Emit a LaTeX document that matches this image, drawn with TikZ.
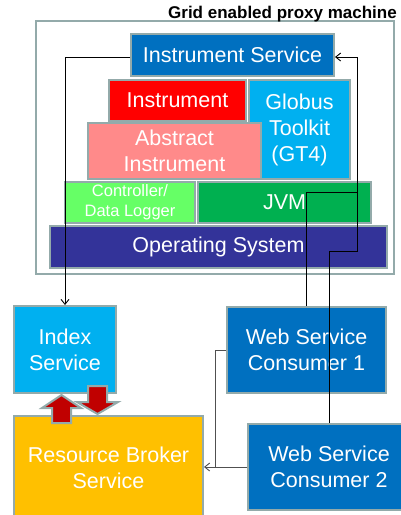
\documentclass[tikz,border=0pt]{standalone}
\usepackage{fontspec}
\setmainfont{Liberation Sans}
\usetikzlibrary{arrows.meta}

\definecolor{edgegray}{HTML}{93AAAA}
\definecolor{svcblue}{HTML}{0070C0}
\definecolor{skyblue}{HTML}{00B0F0}
\definecolor{instred}{HTML}{FF0000}
\definecolor{abspink}{HTML}{FF8A8A}
\definecolor{ctrlgreen}{HTML}{66FF66}
\definecolor{jvmgreen}{HTML}{00B050}
\definecolor{osblue}{HTML}{333399}
\definecolor{brokergold}{HTML}{FFC000}
\definecolor{arrowred}{HTML}{C00000}
\definecolor{linegray}{HTML}{505050}

\tikzset{
  blk/.style={draw=edgegray, line width=2pt, rectangle, inner sep=0pt,
    text=white, align=center, font=\fontsize{21.5}{26}\selectfont},
  smallblk/.style={blk, font=\fontsize{16.5}{20}\selectfont},
  conn/.style={draw=black, line width=0.9pt},
  conn2/.style={draw=linegray, line width=0.9pt},
  tip/.style={-{Straight Barb[length=5pt,width=8pt]}},
  blockarrow/.style={fill=arrowred, draw=edgegray, line width=2pt, line join=miter},
}

\begin{document}
\begin{tikzpicture}[x=1pt, y=-1pt]
\useasboundingbox (0,0) rectangle (401,515);
\clip (0,0) rectangle (401,515);

% machine frame and its caption
\draw[edgegray, line width=2pt] (36,21) rectangle (394,274);
\node[anchor=base east, inner sep=0pt, font=\bfseries\fontsize{17}{20}\selectfont]
  (caption) at (397,18) {Grid enabled proxy machine};

% software stack on the proxy machine
\node[blk, fill=svcblue, minimum width=203pt, minimum height=42pt] (InstrServ) at (232.5,55) {Instrument Service};
\node[blk, fill=instred, minimum width=137pt, minimum height=41pt] (Instr) at (177.5,100.5) {Instrument};
\node[blk, fill=skyblue, minimum width=101pt, minimum height=99pt] (Globus) at (299.5,129.5) {Globus\\Toolkit\\(GT4)};
\node[blk, fill=abspink, minimum width=173pt, minimum height=56pt] (Abstract) at (174.5,151) {Abstract\\Instrument};
\node[smallblk, fill=ctrlgreen, minimum width=130pt, minimum height=41pt] (Ctrl) at (130,202.5) {Controller/\\Data Logger};
\node[blk, fill=jvmgreen, minimum width=173pt, minimum height=41pt] (JVM) at (284.5,202.5) {JVM};
\node[blk, fill=osblue, minimum width=337pt, minimum height=42pt] (OS) at (218.5,247) {Operating System};

% grid services and consumers
\node[blk, fill=skyblue, minimum width=102pt, minimum height=87pt] (Index) at (65,349.5) {Index\\Service};
\node[blk, fill=brokergold, minimum width=189pt, minimum height=103pt] (Broker) at (108.5,467.5) {Resource Broker\\Service};
\node[blk, fill=svcblue, minimum width=159pt, minimum height=86pt] (WSC1) at (306.5,350) {Web Service\\Consumer 1};
\node[blk, fill=svcblue, minimum width=162pt, minimum height=86pt] (WSC2) at (329,467) {Web Service\\Consumer 2};

% exchange between index and broker
\draw[blockarrow] (61.5,395) -- (81,408) -- (71,408) -- (71,423) -- (52,423) -- (52,408) -- (42,408) -- cycle;
\draw[blockarrow] (97.5,414) -- (118,402) -- (107,402) -- (107,386) -- (88,386) -- (88,402) -- (77,402) -- cycle;

% bend points of the connectors
\coordinate (busLow) at (357,251);
\coordinate (busTop) at (357,57);
\coordinate (busMid) at (357,192);
\coordinate (brk) at (215,467);

% registration of the instrument service
\draw[conn, tip] ([yshift=-2pt]InstrServ.west) -| (Index.north);
% consumers calling the instrument service
\draw[conn, tip] (WSC2.north) |- (busLow) -- (busTop) -- ([yshift=-2pt]InstrServ.east);
\draw[conn] (WSC1.north) |- (busMid);
% consumers querying the broker
\draw[conn2, tip] (WSC1.west) -| (brk) -- (Broker.east |- brk);
\draw[conn2] (WSC2.west) -- (brk);
\end{tikzpicture}
\end{document}
